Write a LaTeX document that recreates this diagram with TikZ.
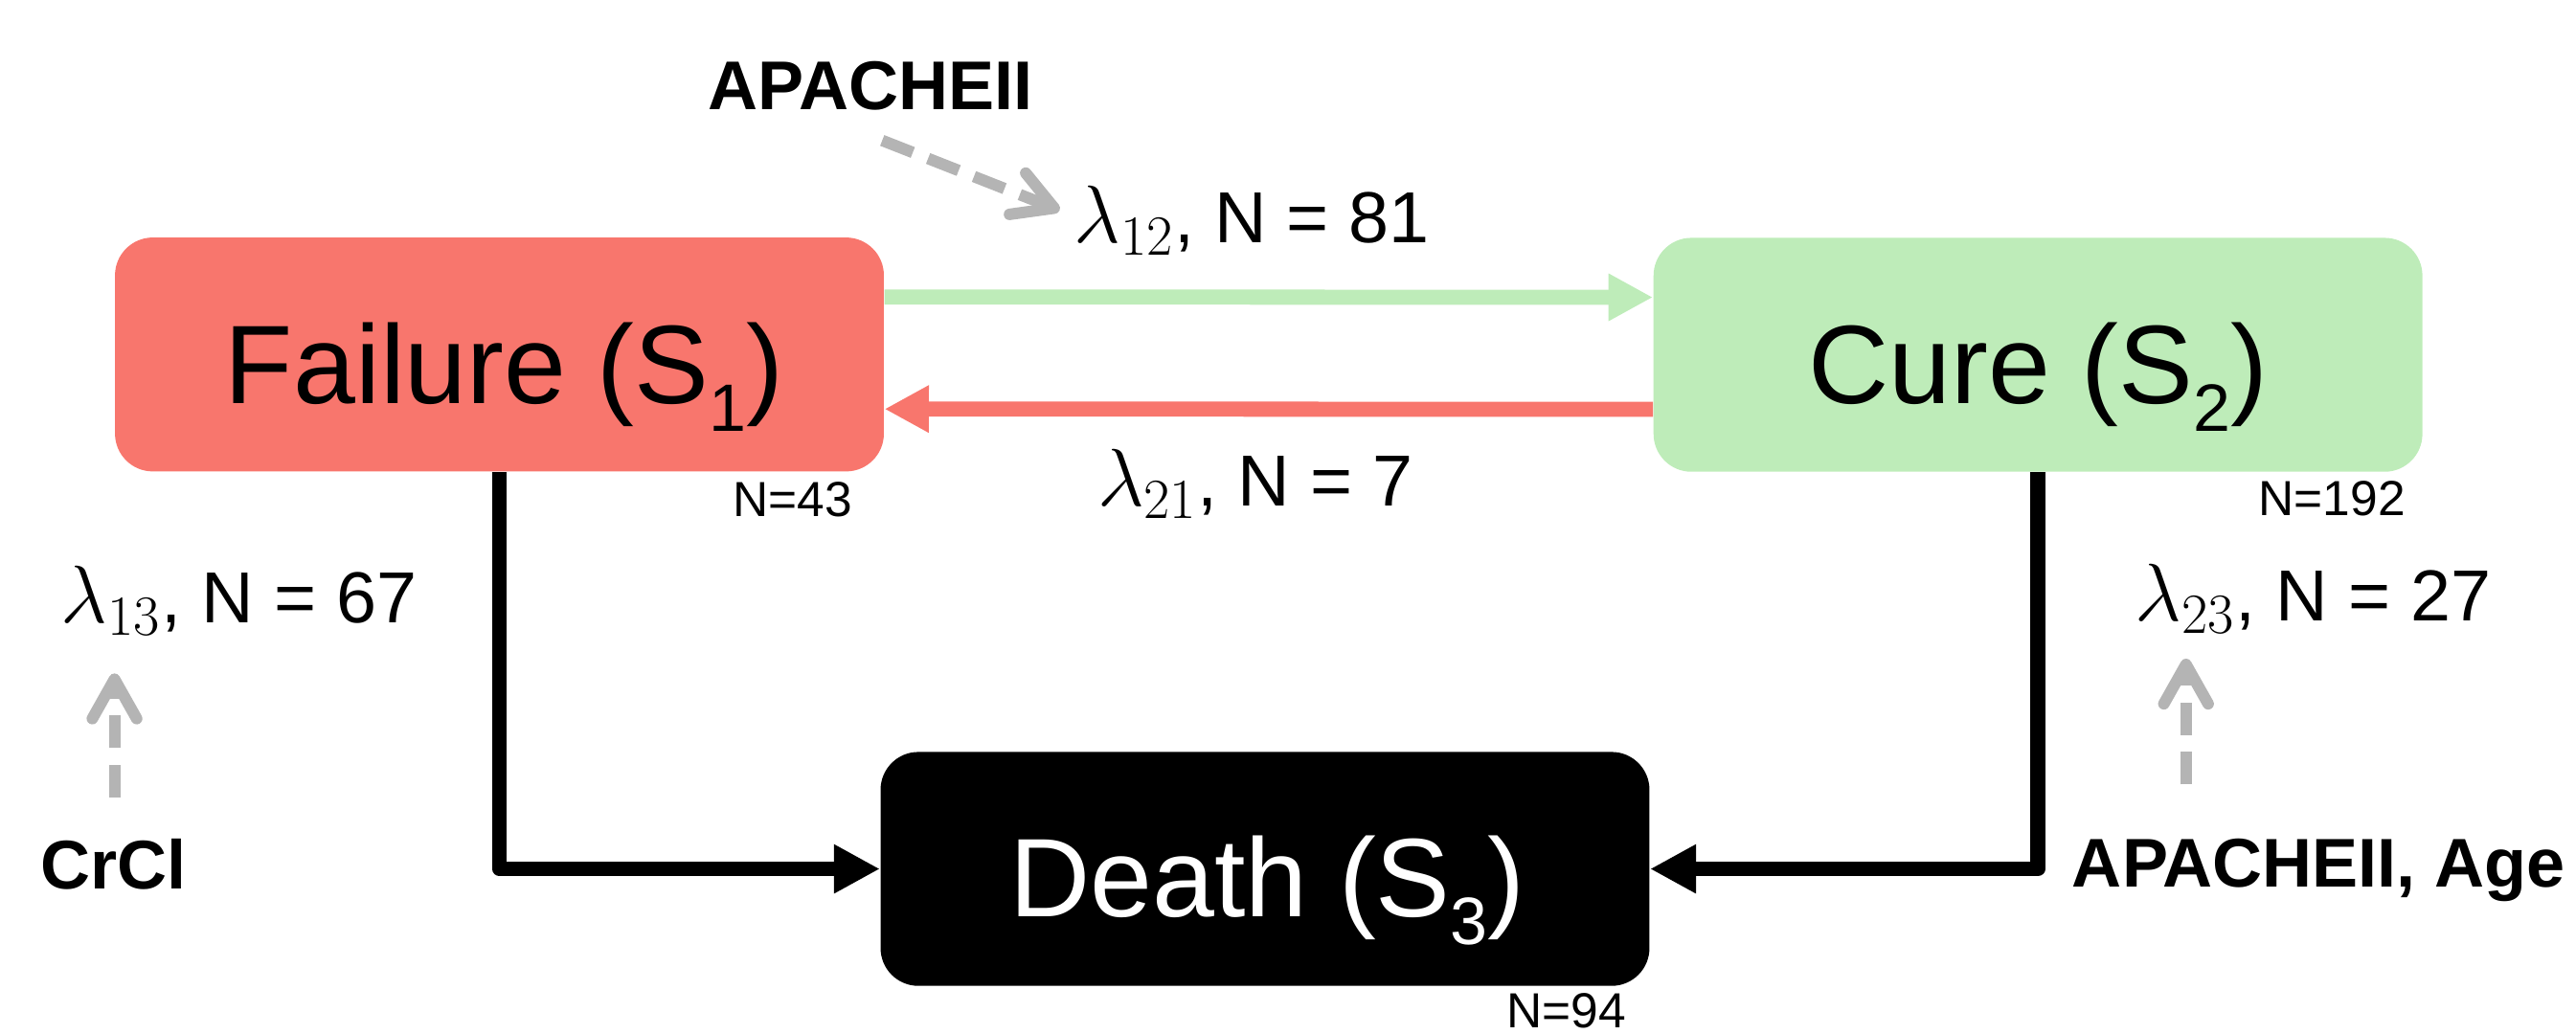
\documentclass[tikz,border=0pt]{standalone}
\usepackage{fontspec}
\setmainfont{Liberation Sans}
\usepackage{graphicx}
\usetikzlibrary{arrows.meta}

\definecolor{failred}{RGB}{248,118,109}
\definecolor{curegreen}{RGB}{190,236,185}
\definecolor{covgrey}{RGB}{180,180,180}

% lowered, smaller state index, as in S_1
\newcommand\statesub[1]{\raisebox{-0.25em}{\scalebox{0.6}{#1}}}
% transition intensity symbol, set a little larger than the text around it
\newcommand\rate[1]{{\fontsize{25}{30}\selectfont$\lambda_{#1}$}}

\tikzset{
  statebox/.style={rectangle, rounded corners=11.5pt, minimum width=234pt,
    minimum height=71.2pt, inner sep=0pt, draw=none},
  statelabel/.style={font=\fontsize{34}{40}\selectfont, inner sep=0pt, anchor=base},
  ratelabel/.style={font=\fontsize{22}{26}\selectfont, inner sep=0pt, anchor=base},
  covlabel/.style={font=\bfseries\fontsize{21}{25}\selectfont, inner sep=0pt, anchor=base},
  countlabel/.style={font=\fontsize{15}{18}\selectfont, inner sep=0pt, anchor=base},
  ratearrow/.style={line width=4.6pt, -{Triangle[length=13.5pt,width=13.5pt]}},
  deatharrow/.style={line width=4.5pt, line join=round, black,
    -{Triangle[length=14pt,width=14pt]}},
  covarrow/.style={covgrey, line width=3.5pt, dash pattern=on 10pt off 5pt,
    -{Straight Barb[length=12pt,width=13.5pt,line cap=round,line join=round]}},
}

\begin{document}
\begin{tikzpicture}[x=0.5pt, y=-0.5pt]
  \useasboundingbox (0,0) rectangle (1568,629);

  % states
  \node[statebox, fill=failred]   (fail)  at (304,215.8)   {};
  \node[statebox, fill=curegreen] (cure)  at (1240.5,216)  {};
  \node[statebox, fill=black]     (death) at (770,529)     {};

  \node[statelabel] (failtxt)  at (307,245.4) {Failure (S\statesub{1})};
  \node[statelabel] (curetxt)  at (1240.5,245.4) {Cure (S\statesub{2})};
  \node[statelabel, text=white] (deathtxt) at (771.5,558) {Death (S\statesub{3})};

  % state sizes
  \node[countlabel] (nfail)  at (482.5,314.4) {N=43};
  \node[countlabel] (ncure)  at (1419.5,313.8) {N=192};
  \node[countlabel] (ndeath) at (953.5,625.5) {N=94};

  % transitions between failure and cure
  \draw[ratearrow, curegreen] ([yshift=17.5pt]fail.east) -- ([yshift=17.5pt]cure.west);
  \draw[ratearrow, failred] ([yshift=-16.6pt]cure.west) -- ([yshift=-16.6pt]fail.east);

  % transitions into death
  \draw[deatharrow] (fail.south) |- (death.west);
  \draw[deatharrow] (cure.south) |- (death.east);

  % transition rates
  \node[ratelabel] (r12) at (762,147.6) {\rate{12}, N = 81};
  \node[ratelabel] (r21) at (764,308)   {\rate{21}, N = 7};
  \node[ratelabel] (r13) at (145.5,379) {\rate{13}, N = 67};
  \node[ratelabel] (r23) at (1408,378)  {\rate{23}, N = 27};

  % covariates
  \node[covlabel] (cov12) at (530,67)     {APACHEII};
  \node[covlabel] (cov13) at (69,541)     {CrCl};
  \node[covlabel] (cov23) at (1411.5,540) {APACHEII, Age};

  \coordinate (c12from) at (537,85.5);
  \coordinate (c12to)   at (645,128);
  \coordinate (c13from) at (69.7,485.5);
  \coordinate (c13to)   at (69.7,410);
  \coordinate (c23from) at (1330.6,477.6);
  \coordinate (c23to)   at (1330.6,401);

  \draw[covarrow] (c12from) -- (c12to);
  \draw[covarrow] (c13from) -- (c13to);
  \draw[covarrow] (c23from) -- (c23to);
\end{tikzpicture}
\end{document}
